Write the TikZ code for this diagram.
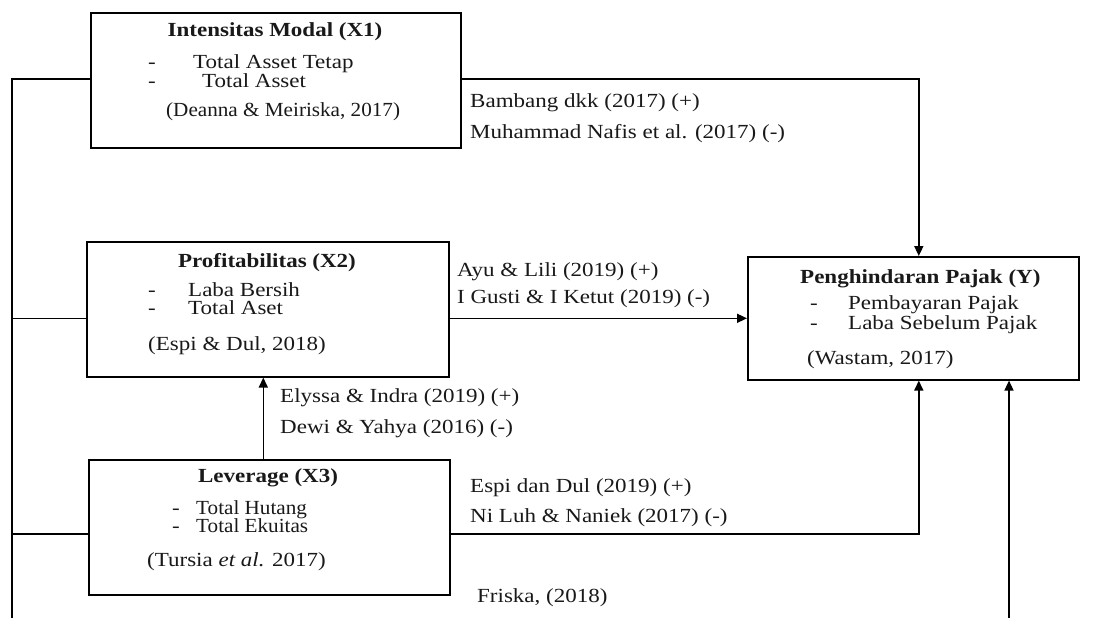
\documentclass[tikz,border=0pt]{standalone}
\usepackage{fontspec}
\setmainfont{Liberation Serif}[FakeStretch=1.15]
\usetikzlibrary{arrows.meta,calc}
\begin{document}
\begin{tikzpicture}[x=1pt,y=-1pt,
  box/.style={draw=black,line width=1.6pt,anchor=north west,inner sep=0pt},
  txt/.style={anchor=base west,inner sep=0pt,text=black!90,font=\fontsize{20}{24}\selectfont},
  ttl/.style={anchor=base,inner sep=0pt,text=black!90,font=\fontsize{20}{24}\selectfont\bfseries},
  conn/.style={line width=1.6pt,draw=black},
  arr/.style={conn,-{Triangle[length=10pt,width=9pt]}}]
\useasboundingbox (0,0) rectangle (1100,618);
\fill[white] (0,0) rectangle (1100,618);
% boxes
\node[box,minimum width=370pt,minimum height=135pt] (x1) at (90,12) {};
\node[box,minimum width=362pt,minimum height=135pt] (x2) at (86,241) {};
\node[box,minimum width=361pt,minimum height=135pt] (x3) at (88,459) {};
\node[box,minimum width=331pt,minimum height=123pt] (y) at (747,256) {};
% X1 content
\node[ttl] (x1t) at (275,37) {Intensitas Modal (X1)};
\node[txt] (x1d1) at (148,69) {-};
\node[txt] (x1a) at (193,69) {Total Asset Tetap};
\node[txt] (x1d2) at (148,87) {-};
\node[txt] (x1b) at (202,87) {Total Asset};
\node[txt] (x1c) at (166,116) {\scalebox{0.92}[1]{(Deanna \& Meiriska, 2017)}};
% X2 content
\node[ttl] (x2t) at (267,267) {Profitabilitas (X2)};
\node[txt] (x2d1) at (148,296) {-};
\node[txt] (x2a) at (188,296) {Laba Bersih};
\node[txt] (x2d2) at (148,314) {-};
\node[txt] (x2b) at (188,314) {Total Aset};
\node[txt] (x2c) at (148,350) {(Espi \& Dul, 2018)};
% X3 content
\node[ttl] (x3t) at (268,482) {Leverage (X3)};
\node[txt] (x3d1) at (172,514) {-};
\node[txt] (x3a) at (196,514) {\scalebox{0.92}[1]{Total Hutang}};
\node[txt] (x3d2) at (172,532) {-};
\node[txt] (x3b) at (196,532) {\scalebox{0.92}[1]{Total Ekuitas}};
\node[txt] (x3c) at (147,566) {(Tursia \textit{et al.} 2017)};
% Y content
\node[ttl,anchor=base west] (yt) at (800,283) {Penghindaran Pajak (Y)};
\node[txt] (yd1) at (810,309) {-};
\node[txt] (ya) at (848,309) {Pembayaran Pajak};
\node[txt] (yd2) at (810,329) {-};
\node[txt] (yb) at (848,329) {Laba Sebelum Pajak};
\node[txt] (yc) at (807,364) {(Wastam, 2017)};
% labels
\node[txt] (l1) at (470,107) {Bambang dkk (2017) (+)};
\node[txt] (l2) at (470,138) {Muhammad Nafis et al. (2017) (-)};
\node[txt] (l3) at (457,276) {Ayu \& Lili (2019) (+)};
\node[txt] (l4) at (457,303) {I Gusti \& I Ketut (2019) (-)};
\node[txt] (l5) at (280,402) {Elyssa \& Indra (2019) (+)};
\node[txt] (l6) at (280,433) {Dewi \& Yahya (2016) (-)};
\node[txt] (l7) at (470,492) {Espi dan Dul (2019) (+)};
\node[txt] (l8) at (470,522) {Ni Luh \& Naniek (2017) (-)};
\node[txt] (l9) at (477,602) {Friska, (2018)};
% coordinates
\coordinate (x1e) at ([yshift=1.5pt]x1.east);
\coordinate (x1w) at ([yshift=1.5pt]x1.west);
\coordinate (x3e) at ([yshift=-6.5pt]x3.east);
\coordinate (x3w) at ([yshift=-6.5pt]x3.west);
\coordinate (yn) at ([xshift=5.5pt]y.north);
\coordinate (ys) at ([xshift=5.5pt]y.south);
\coordinate (x3n) at ([xshift=-6pt]x3.north);
\coordinate (lb) at (12,618);
\coordinate (rb) at (1009,618);
% connectors
\draw[arr] (x1e) -| (yn);
\draw[arr] (x2.east |- y.west) -- (y.west);
\draw[arr] (x3e) -| (ys);
\draw[arr] (x3n) -- (x3n |- x2.south);
\draw[conn] (x1w) -| (lb);
\draw[conn] (x2.west |- y.west) -- (lb |- y.west);
\draw[conn] (x3w) -- (x3w -| lb);
\draw[arr] (rb) -- (rb |- y.south);
\end{tikzpicture}
\end{document}
